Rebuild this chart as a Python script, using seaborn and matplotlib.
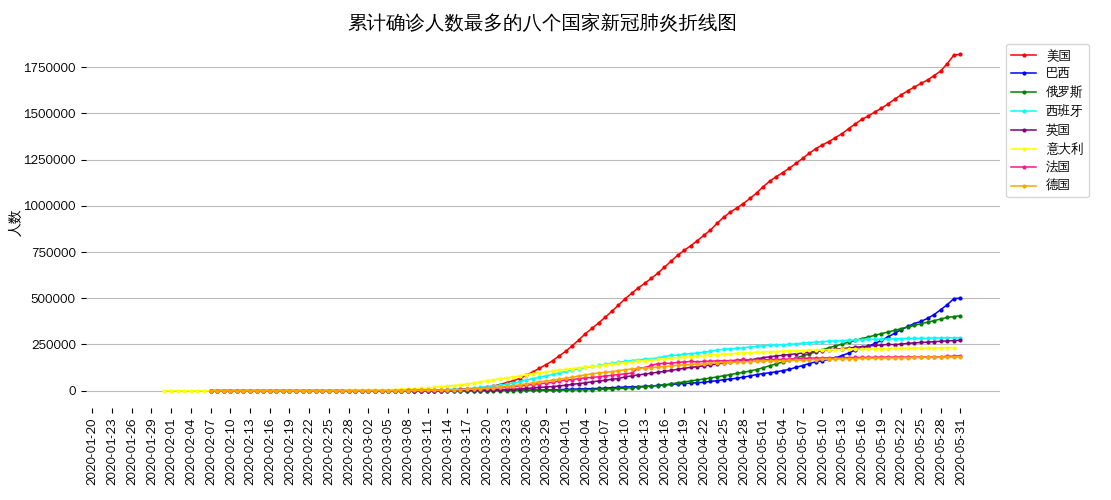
import numpy as np
import pandas as pd
import matplotlib
matplotlib.use('Agg')
import matplotlib.pyplot as plt
import seaborn as sns
plt.rcParams['font.family'] = ['Noto Sans CJK SC', 'WenQuanYi Zen Hei', 'DejaVu Sans']
plt.rcParams['axes.unicode_minus'] = False

# cumulative confirmed cases, in thousands; Feb part then daily Mar 1 - May 31
mar_may = {}
feb = {}
start = {}

countries = ['美国', '巴西', '俄罗斯', '西班牙', '英国', '意大利', '法国', '德国']
colors = ['red', 'blue', 'green', 'cyan', 'purple', 'yellow', 'deeppink', 'orange']

start['美国'] = '2020-02-07'
feb['美国'] = [0.012]*9 + [0.013]*5 + [0.015]*9
mar_may['美国'] = [0.07,0.1,0.12,0.16,0.22,0.32,0.43,0.54,0.7,0.96,1.3,1.7,2.2,2.7,3.5,4.6,6.4,7.8,13.7,19.1,25.5,33.3,43.8,53.7,65.8,83.8,101.7,121.5,140.9,161.8,188.2,
    213.2,243.6,275.4,308.9,337.1,366.7,397.0,429.1,462.8,496.5,526.4,555.3,580.6,607.7,636.4,667.8,700.1,732.2,759.1,784.3,811.9,840.4,869.2,905.4,938.2,965.8,988.5,1012.6,1039.9,1069.4,
    1103.5,1133.1,1158.0,1180.4,1204.4,1229.3,1257.0,1283.9,1309.5,1329.3,1347.9,1369.4,1390.8,1417.8,1442.8,1467.8,1486.8,1508.3,1528.6,1551.8,1577.1,1600.9,1622.6,1643.2,1662.3,1681.2,1705.0,1730.0,1770.0,1816.0,1820.0]

start['巴西'] = '2020-02-07'
feb['巴西'] = [0]*19 + [0.001]*4
mar_may['巴西'] = [0.002,0.002,0.002,0.003,0.008,0.013,0.019,0.025,0.025,0.034,0.052,0.077,0.098,0.121,0.2,0.234,0.291,0.428,0.621,0.904,1.128,1.546,1.924,2.247,2.554,2.985,3.417,3.904,4.256,4.579,5.717,
    6.836,7.910,9.056,10.278,11.130,12.161,14.034,16.170,18.092,19.638,20.727,22.192,23.430,25.262,28.320,30.425,33.682,36.658,38.654,40.743,43.079,45.757,50.036,54.043,59.324,63.100,67.446,73.235,79.685,87.187,
    92.202,97.100,101.826,108.620,115.455,126.611,135.773,146.894,156.061,162.699,169.594,178.214,190.137,203.165,220.291,233.511,241.080,255.368,271.885,291.579,310.087,330.890,347.398,363.211,374.898,391.222,411.821,438.238,465.166,498.4,500.0]

start['俄罗斯'] = '2020-02-07'
feb['俄罗斯'] = [0.002]*23
mar_may['俄罗斯'] = [0.002,0.003,0.003,0.004,0.013,0.013,0.017,0.017,0.020,0.020,0.028,0.045,0.059,0.063,0.090,0.114,0.147,0.199,0.253,0.306,0.367,0.438,0.495,0.658,0.840,1.036,1.264,1.534,1.836,2.337,2.777,
    3.548,4.149,4.731,5.389,6.343,7.497,8.672,10.131,11.917,13.584,15.770,18.328,21.102,24.490,27.938,32.008,36.793,42.853,47.121,52.763,57.999,62.773,68.622,74.588,80.949,87.147,93.558,99.399,106.498,114.431,
    124.054,134.686,145.268,155.370,165.929,177.160,187.859,198.676,209.688,221.344,232.243,242.271,252.245,262.843,272.043,281.752,290.678,299.941,308.705,317.554,326.448,335.882,344.481,353.427,362.342,370.680,379.051,387.623,396.575,401.0,405.8]

start['西班牙'] = '2020-02-07'
feb['西班牙'] = [0.001]*3 + [0.002]*15 + [0.006,0.013,0.015,0.032,0.045]
mar_may['西班牙'] = [0.084,0.12,0.165,0.222,0.259,0.4,0.5,0.673,1.073,1.695,2.277,2.277,5.232,6.391,7.798,9.942,11.748,13.910,17.963,20.410,25.374,28.603,35.136,39.885,49.515,57.786,65.719,73.235,80.110,87.956,95.923,
    104.118,112.065,119.199,126.168,131.646,136.675,141.942,148.220,153.222,158.273,163.027,166.831,170.099,172.541,177.644,184.948,190.839,191.726,198.674,200.210,204.178,208.389,213.024,219.764,223.759,226.629,229.422,232.128,236.899,239.639,
    242.988,245.567,247.122,248.301,250.561,253.682,256.855,260.117,262.783,264.663,268.143,269.520,271.095,272.646,274.367,276.505,277.719,278.188,278.803,279.524,280.117,281.904,282.370,282.852,283.339,283.849,284.986,285.768,286.308,286.509,286.718]

start['英国'] = '2020-02-07'
feb['英国'] = [0.003]*3 + [0.008]*6 + [0.009]*13 + [0.023]
mar_may['英国'] = [0.036,0.04,0.051,0.086,0.116,0.164,0.207,0.274,0.322,0.384,0.459,0.459,0.802,1.144,1.145,1.551,1.960,2.642,2.716,4.014,5.067,5.745,6.726,8.164,9.640,11.812,14.745,17.312,19.780,22.453,25.481,
    29.865,34.173,38.689,42.477,48.436,52.279,55.949,61.474,65.872,74.605,79.874,85.206,89.570,94.845,99.483,104.145,109.769,115.314,121.172,125.856,130.172,134.638,139.246,144.640,149.569,154.037,158.348,162.350,166.441,172.481,
    178.685,183.500,187.842,191.832,195.524,199.756,203.356,207.977,212.629,216.525,220.449,224.332,227.741,230.985,234.440,238.004,241.461,244.995,247.709,250.138,249.619,252.246,255.544,258.504,260.916,262.547,265.227,267.240,269.127,271.222,272.826]

start['意大利'] = '2020-01-31'
feb['意大利'] = [0.002]*6 + [0.003]*14 + [0.02,0.062,0.155,0.229,0.322,0.453,0.655,0.888,1.128]
mar_may['意大利'] = [1.694,2.036,2.502,3.089,3.858,4.636,5.883,7.375,9.172,10.149,12.462,12.462,17.660,21.157,24.747,27.980,31.506,35.713,41.035,47.021,53.578,59.138,63.927,69.176,74.386,80.589,86.498,92.472,97.689,101.739,105.792,
    110.574,115.242,119.827,124.632,128.948,132.547,135.586,139.422,143.626,147.577,152.271,156.363,159.516,162.488,165.155,168.941,172.434,175.925,178.972,181.228,183.957,187.327,189.973,192.994,195.351,197.675,199.414,201.505,203.591,205.463,
    207.428,209.328,210.717,211.938,213.013,214.457,215.858,217.185,218.268,219.070,219.814,221.216,222.104,223.096,223.885,224.760,225.435,225.886,226.699,227.364,228.006,228.658,229.327,229.858,230.158,230.555,231.139,231.732,232.248,232.664,232.997]

start['法国'] = '2020-02-07'
feb['法国'] = [0.006]*2 + [0.011]*5 + [0.012]*11 + [0.014,0.018,0.038,0.057,0.1]
mar_may['法国'] = [0.13,0.191,0.204,0.288,0.38,0.656,0.959,1.136,1.219,1.794,2.293,2.293,3.681,4.496,4.532,6.683,7.715,9.124,10.970,12.758,14.463,16.243,20.123,22.622,25.600,29.551,33.402,38.105,40.708,45.170,52.827,
    57.749,59.929,65.202,69.500,71.412,75.343,79.163,83.057,87.366,91.738,94.863,121.712,124.869,136.779,146.075,148.084,148.086,153.011,155.393,158.168,155.980,158.303,159.952,161.644,162.220,162.220,165.963,169.053,166.543,167.299,
    167.305,168.518,168.925,169.583,170.551,174.191,174.224,176.207,176.658,177.094,177.547,178.349,178.184,178.994,179.630,179.630,179.693,180.809,181.826,181.826,181.951,182.036,182.219,182.381,182.469,182.847,183.067,183.038,186.238,186.835,188.752]

start['德国'] = '2020-02-07'
feb['德国'] = [0.013]*4 + [0.014]*4 + [0.016]*11 + [0.021,0.026,0.053,0.066]
mar_may['德国'] = [0.117,0.15,0.188,0.24,0.349,0.534,0.684,0.847,1.112,1.46,1.884,2.369,3.062,3.795,4.838,6.012,7.156,8.198,10.999,13.957,16.662,18.610,22.672,27.436,31.554,36.508,42.288,48.582,52.547,57.298,61.913,
    67.366,73.522,79.696,85.778,91.714,95.391,99.225,103.228,108.202,113.525,117.658,120.479,123.016,125.098,127.584,130.450,133.830,137.439,139.897,141.672,143.457,145.694,148.046,150.383,152.438,154.175,155.193,156.337,157.641,159.119,
    160.758,161.703,162.496,163.175,163.860,164.807,166.091,167.300,168.551,169.575,170.588,171.324,172.239,173.152,173.772,174.355,175.210,175.752,176.369,176.551,177.778,178.473,179.021,179.710,179.986,180.328,180.600,181.200,181.524,182.196,182.922]

all_dates = pd.date_range('2020-01-20', '2020-05-31')
rows = []
for c in countries:
    vals = feb[c] + mar_may[c]
    d = pd.date_range(start[c], periods=len(vals))
    rows.append(pd.DataFrame({'date': d, 'country': c, 'cases': np.array(vals) * 1000}))
df = pd.concat(rows)
df['x'] = (df['date'] - all_dates[0]).dt.days

fig, ax = plt.subplots(figsize=(11.11, 5), dpi=100)
sns.lineplot(data=df, x='x', y='cases', hue='country', hue_order=countries,
             palette=colors, marker='o', markersize=3, markeredgewidth=0, linewidth=1.1, ax=ax)
ticks = np.arange(0, len(all_dates), 3)
ax.set_xticks(ticks)
ax.set_xticklabels([all_dates[i].strftime('%Y-%m-%d') for i in ticks], rotation=90, fontsize=9)
ax.set_xlim(-1, 138)
ax.set_yticks(np.arange(0, 1750001, 250000))
ax.tick_params(axis='y', labelsize=9)
ax.ticklabel_format(axis='y', style='plain')
ax.grid(axis='y', color='#bbbbbb')
for s in ax.spines.values():
    s.set_visible(False)
ax.set_xlabel('')
ax.set_ylabel('人数', labelpad=1)
ax.set_title('累计确诊人数最多的八个国家新冠肺炎折线图', fontsize=14)
ax.legend(loc='upper left', bbox_to_anchor=(1.0, 1.0), fontsize=9)
plt.subplots_adjust(left=0.077, right=0.9, top=0.925, bottom=0.185)
plt.savefig('out.png')
